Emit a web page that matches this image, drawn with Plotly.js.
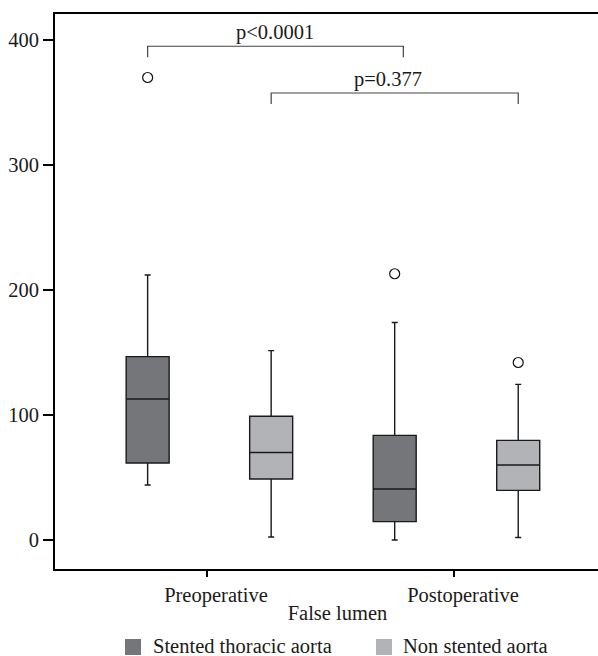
<!DOCTYPE html>
<html>
<head>
<meta charset="utf-8">
<script src="https://cdn.plot.ly/plotly-3.0.1.min.js"></script>
<style>html,body{margin:0;padding:0;overflow:hidden;background:#fff}</style>
</head>
<body>
<div id="chart" style="width:620px;height:656px"></div>
<script>
// ---- data ----
const categories = ["Preoperative", "Postoperative"];
const seriesNames = ["Stented thoracic aorta", "Non stented aorta"];
const stentedQ1 = [61.6, 14.7];
const stentedMedian = [112.8, 40.8];
const stentedQ3 = [146.7, 83.7];
const stentedLower = [44, 0];
const stentedUpper = [212, 174];
const stentedOutliers = [[370], [213]];
const nonStentedQ1 = [48.8, 39.7];
const nonStentedMedian = [70, 60];
const nonStentedQ3 = [99, 79.7];
const nonStentedLower = [2.4, 2];
const nonStentedUpper = [151.5, 124.5];
const nonStentedOutliers = [[], [142]];
const yTicks = [0, 100, 200, 300, 400];
// comparisons: [catA, seriesA, catB, seriesB]
const compLabels = ["p<0.0001", "p=0.377"];
const compFrom = [[0, 0], [0, 1]];
const compTo = [[1, 0], [1, 1]];
const compHeight = [395, 357.6];

// ---- styling ----
const colors = ["#75767a", "#b1b3b6"];
const offsets = [-0.24, 0.26];
const FONT = "'Liberation Serif', 'Times New Roman', serif";
const FS = 20.5;
const pos = (c, s) => c + offsets[s];

const stats = [
  {q1: stentedQ1, median: stentedMedian, q3: stentedQ3, lower: stentedLower, upper: stentedUpper, out: stentedOutliers},
  {q1: nonStentedQ1, median: nonStentedMedian, q3: nonStentedQ3, lower: nonStentedLower, upper: nonStentedUpper, out: nonStentedOutliers}
];

const traces = [];
stats.forEach((st, s) => {
  traces.push({
    type: "box",
    name: seriesNames[s],
    x: categories.map((_, c) => pos(c, s)),
    q1: st.q1, median: st.median, q3: st.q3,
    lowerfence: st.lower, upperfence: st.upper,
    width: 0.174,
    whiskerwidth: 0.14,
    fillcolor: colors[s],
    line: {color: "#1a1a1a", width: 1.4},
    boxpoints: false,
    hoverinfo: "skip",
    showlegend: false
  });
  const ox = [], oy = [];
  st.out.forEach((arr, c) => arr.forEach(v => { ox.push(pos(c, s)); oy.push(v); }));
  traces.push({
    type: "scatter", mode: "markers", x: ox, y: oy,
    marker: {symbol: "circle-open", size: 10, color: "#111", line: {width: 1.2}},
    hoverinfo: "skip", showlegend: false
  });
});

const shapes = [];
const annotations = [];
compLabels.forEach((lab, i) => {
  const x0 = pos(compFrom[i][0], compFrom[i][1]);
  const x1 = pos(compTo[i][0], compTo[i][1]) + (i === 0 ? 0.035 : 0);
  const h = compHeight[i];
  const d = 8.8;
  shapes.push({type: "path", xref: "x", yref: "y",
    path: `M ${x0} ${h - d} L ${x0} ${h} L ${x1} ${h} L ${x1} ${h - d}`,
    line: {color: "#444", width: 1.2}});
  annotations.push({x: (x0 + x1) / 2, y: h, xref: "x", yref: "y", text: lab,
    showarrow: false, yanchor: "bottom", yshift: 0, xshift: i === 0 ? 0 : -7,
    font: {family: FONT, size: FS, color: "#1a1a1a"}});
});

// legend (custom)
const plotL = 55, plotW = 565, plotB = 569, plotH = 555;
const px = v => (v - plotL) / plotW;
const py = v => (plotB - v) / plotH;
const legSq = [125, 376];
const legTx = [151, 401];
seriesNames.forEach((n, s) => {
  shapes.push({type: "rect", xref: "paper", yref: "paper",
    x0: px(legSq[s]), x1: px(legSq[s] + 16), y0: py(655), y1: py(639),
    fillcolor: colors[s], line: {width: 0}});
  annotations.push({x: px(legTx[s]), y: py(646), xref: "paper", yref: "paper",
    text: n, showarrow: false, xanchor: "left", yanchor: "middle",
    font: {family: FONT, size: FS, color: "#1a1a1a"}});
});

const layout = {
  width: 620, height: 656,
  margin: {l: 55, r: 0, t: 14, b: 87},
  paper_bgcolor: "#fff", plot_bgcolor: "#fff",
  showlegend: false,
  font: {family: FONT, size: FS, color: "#1a1a1a"},
  xaxis: {
    range: [-0.615, 1.672],
    tickvals: categories.map((_, c) => c), ticktext: categories,
    ticks: "outside", ticklen: 6, tickwidth: 2, tickcolor: "#000",
    ticklabelshift: 9,
    showline: true, linewidth: 2, linecolor: "#000", mirror: true,
    showgrid: false, zeroline: false,
    title: {text: "False lumen", standoff: 0, font: {family: FONT, size: FS}}
  },
  yaxis: {
    range: [-23.2, 420.8],
    tickvals: yTicks,
    ticks: "outside", ticklen: 10, tickwidth: 1.5, tickcolor: "#000",
    showline: true, linewidth: 2, linecolor: "#000", mirror: true,
    showgrid: false, zeroline: false
  },
  shapes: shapes,
  annotations: annotations
};

Plotly.newPlot("chart", traces, layout, {displayModeBar: false, staticPlot: true});
</script>
</body>
</html>
